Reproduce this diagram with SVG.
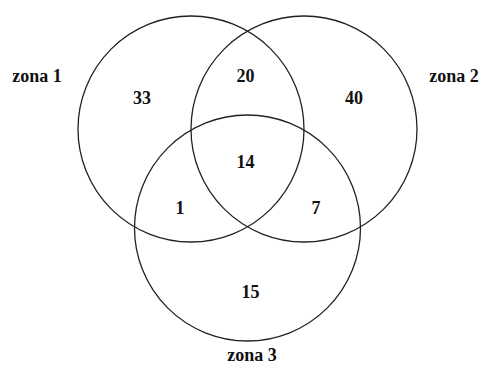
<svg xmlns="http://www.w3.org/2000/svg" width="482" height="365" viewBox="0 0 482 365">
<style>
.c{fill:none;stroke:#222;stroke-width:1.3}
.t{font-family:"Liberation Serif","Times New Roman",serif;font-weight:bold;font-size:18px;fill:#111;text-anchor:middle}
</style>
<rect width="482" height="365" fill="#fff"/>
<g id="zona1"><circle class="c" cx="191" cy="129" r="113"/><text class="t" x="37" y="82">zona 1</text></g>
<g id="zona2"><circle class="c" cx="304" cy="129" r="113"/><text class="t" x="454" y="82">zona 2</text></g>
<g id="zona3"><circle class="c" cx="247.5" cy="228" r="113"/><text class="t" x="252" y="361">zona 3</text></g>
<g id="counts">
<text class="t" x="142" y="104">33</text>
<text class="t" x="245.5" y="82">20</text>
<text class="t" x="354" y="104">40</text>
<text class="t" x="245.5" y="168">14</text>
<text class="t" x="180" y="214">1</text>
<text class="t" x="316" y="214">7</text>
<text class="t" x="250.5" y="298">15</text>
</g>
</svg>
